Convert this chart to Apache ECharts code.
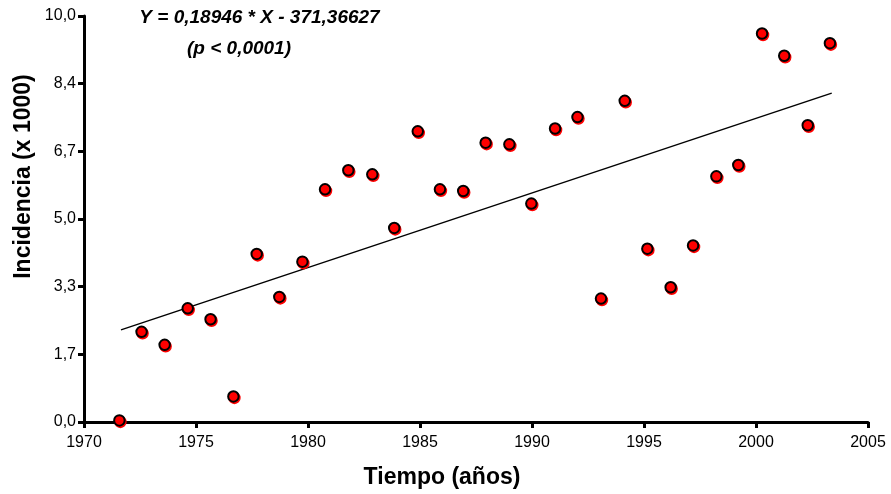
<!DOCTYPE html>
<html><head><meta charset="utf-8">
<script src="https://cdn.jsdelivr.net/npm/echarts@6/dist/echarts.min.js"></script>
<style>html,body{margin:0;padding:0;background:#fff}#c{width:891px;height:494px}</style>
</head><body><div id="c"></div>
<script>
const years = [1971.58,1972.57,1973.60,1974.63,1975.65,1976.67,1977.71,1978.72,1979.75,1980.76,1981.80,1982.87,1983.85,1984.90,1985.89,1986.93,1987.93,1988.99,1989.97,1991.03,1992.03,1993.08,1994.14,1995.15,1996.19,1997.19,1998.23,1999.21,2000.27,2001.26,2002.31,2003.30];
const incidence = [0.04,2.22,1.90,2.80,2.53,0.63,4.14,3.08,3.95,5.73,6.20,6.10,4.78,7.16,5.73,5.69,6.88,6.84,5.38,7.23,7.51,3.04,7.91,4.27,3.32,4.35,6.05,6.33,9.57,9.02,7.31,9.33];
const fitYears = [1971.65, 2003.38];
const fitValues = [2.27, 8.10];
const yTickLabels = ['0,0','1,7','3,3','5,0','6,7','8,4','10,0'];
const xTickLabels = ['1970','1975','1980','1985','1990','1995','2000','2005'];
const equationText = 'Y = 0,18946 * X - 371,36627';
const pText = '(p < 0,0001)';
const xTitle = 'Tiempo (años)';
const yTitle = 'Incidencia (x 1000)';

const FONT = "'Liberation Sans', Arial, sans-serif";
const chart = echarts.init(document.getElementById('c'), null, {renderer: 'canvas'});
chart.setOption({
  animation: false,
  backgroundColor: '#fff',
  grid: {left: 84, right: 23, top: 16, bottom: 72},
  xAxis: {
    type: 'value', min: 1970, max: 2005, interval: 5,
    axisLine: {show: true, lineStyle: {color: '#000', width: 3}},
    axisTick: {show: true, length: 6, lineStyle: {color: '#000', width: 3}},
    splitLine: {show: false},
    axisLabel: {color: '#000', fontFamily: FONT, fontSize: 16, margin: 13,
      formatter: (v, i) => xTickLabels[i] !== undefined ? xTickLabels[i] : String(v)}
  },
  yAxis: {
    type: 'value', min: 0, max: 10, interval: 10/6,
    axisLine: {show: true, lineStyle: {color: '#000', width: 3}},
    axisTick: {show: true, length: 6, lineStyle: {color: '#000', width: 3}},
    splitLine: {show: false},
    axisLabel: {color: '#000', fontFamily: FONT, fontSize: 16, margin: 8,
      formatter: (v, i) => yTickLabels[i] !== undefined ? yTickLabels[i] : String(v)}
  },
  graphic: [
    {type: 'text', x: 259.5, y: 27, style: {text: equationText, font: "italic bold 19px " + FONT, fill: '#000', textAlign: 'center', textVerticalAlign: 'bottom'}},
    {type: 'text', x: 239, y: 58.5, style: {text: pText, font: "italic bold 19px " + FONT, fill: '#000', textAlign: 'center', textVerticalAlign: 'bottom'}},
    {type: 'text', x: 442, y: 478, style: {text: xTitle, font: "bold 23px " + FONT, fill: '#000', textAlign: 'center', textVerticalAlign: 'middle'}},
    {type: 'text', x: 24, y: 176.5, rotation: Math.PI/2, style: {text: yTitle, font: "bold 23px " + FONT, fill: '#000', textAlign: 'center', textVerticalAlign: 'middle'}}
  ],
  series: [
    {type: 'line', data: fitYears.map((x, i) => [x, fitValues[i]]), showSymbol: false, symbol: 'none',
      lineStyle: {color: '#000', width: 1.5}, z: 1, silent: true},
    {type: 'scatter', data: years.map((x, i) => [x, incidence[i]]), symbol: 'circle', symbolSize: 10.5,
      itemStyle: {color: '#ff0000', borderColor: '#000', borderWidth: 2, opacity: 1,
        shadowColor: '#ff0000', shadowBlur: 0, shadowOffsetX: 1, shadowOffsetY: 1.5}, z: 3}
  ]
});
</script></body></html>
